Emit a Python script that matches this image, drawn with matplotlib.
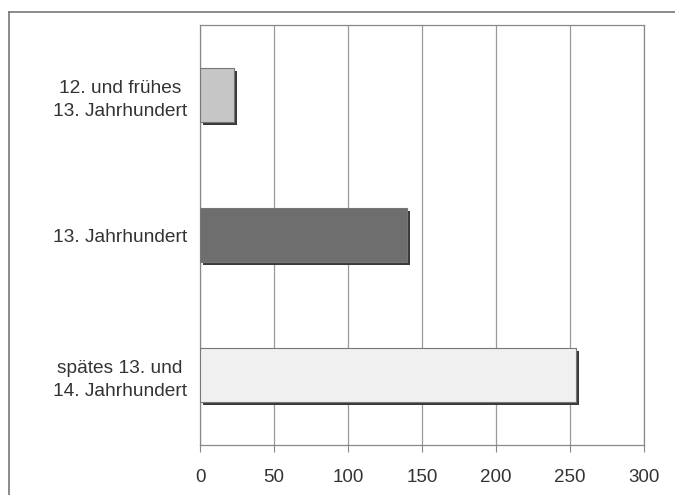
import matplotlib
matplotlib.use("Agg")
import matplotlib.pyplot as plt
import matplotlib.transforms as mtransforms
from matplotlib.lines import Line2D

categories = ["12. und frühes\n13. Jahrhundert", "13. Jahrhundert", "spätes 13. und\n14. Jahrhundert"]
values = [23, 140, 254]
colors = ["#c6c6c6", "#6e6e6e", "#f0f0f0"]
xticks = [0, 50, 100, 150, 200, 250, 300]

plt.rcParams['font.family'] = ['Liberation Sans', 'DejaVu Sans']

fig = plt.figure(figsize=(6.75, 4.95), dpi=100)
ax = fig.add_axes([200/675, 50/495, 444/675, 420/495])

ypos = list(range(len(categories)))[::-1]

shadow = ax.transData + mtransforms.ScaledTranslation(0.03, -0.03, fig.dpi_scale_trans)
ax.barh(ypos, values, height=0.39, color="#3a3a3a", edgecolor="none", transform=shadow, zorder=2)
ax.barh(ypos, values, height=0.39, color=colors, edgecolor="#777777", linewidth=0.8, zorder=3)

ax.set_xlim(0, 300)
ax.set_ylim(-0.5, 2.5)
ax.set_xticks(xticks)
ax.set_xticklabels([str(t) for t in xticks])
ax.set_yticks(ypos)
ax.set_yticklabels(categories, multialignment='center', linespacing=1.45)
ax.tick_params(axis='x', length=5, width=0.8, color="#888888", pad=12, labelsize=13.5, labelcolor="#333333")
ax.tick_params(axis='y', length=0, pad=9.5, labelsize=13.8, labelcolor="#333333")
for lbl in ax.get_yticklabels():
    lbl.set_horizontalalignment('right')

ax.grid(axis='x', color="#999999", linewidth=0.9, zorder=0)
ax.set_axisbelow(True)
for s in ax.spines.values():
    s.set_color("#888888")
    s.set_linewidth(0.9)

# outer frame
fig.add_artist(Line2D([9/675, 9/675], [0, 1 - 12/495], transform=fig.transFigure, color="#777777", linewidth=1.2))
fig.add_artist(Line2D([9/675, 1], [1 - 12/495, 1 - 12/495], transform=fig.transFigure, color="#777777", linewidth=1.2))

fig.savefig("out.png", dpi=100)
